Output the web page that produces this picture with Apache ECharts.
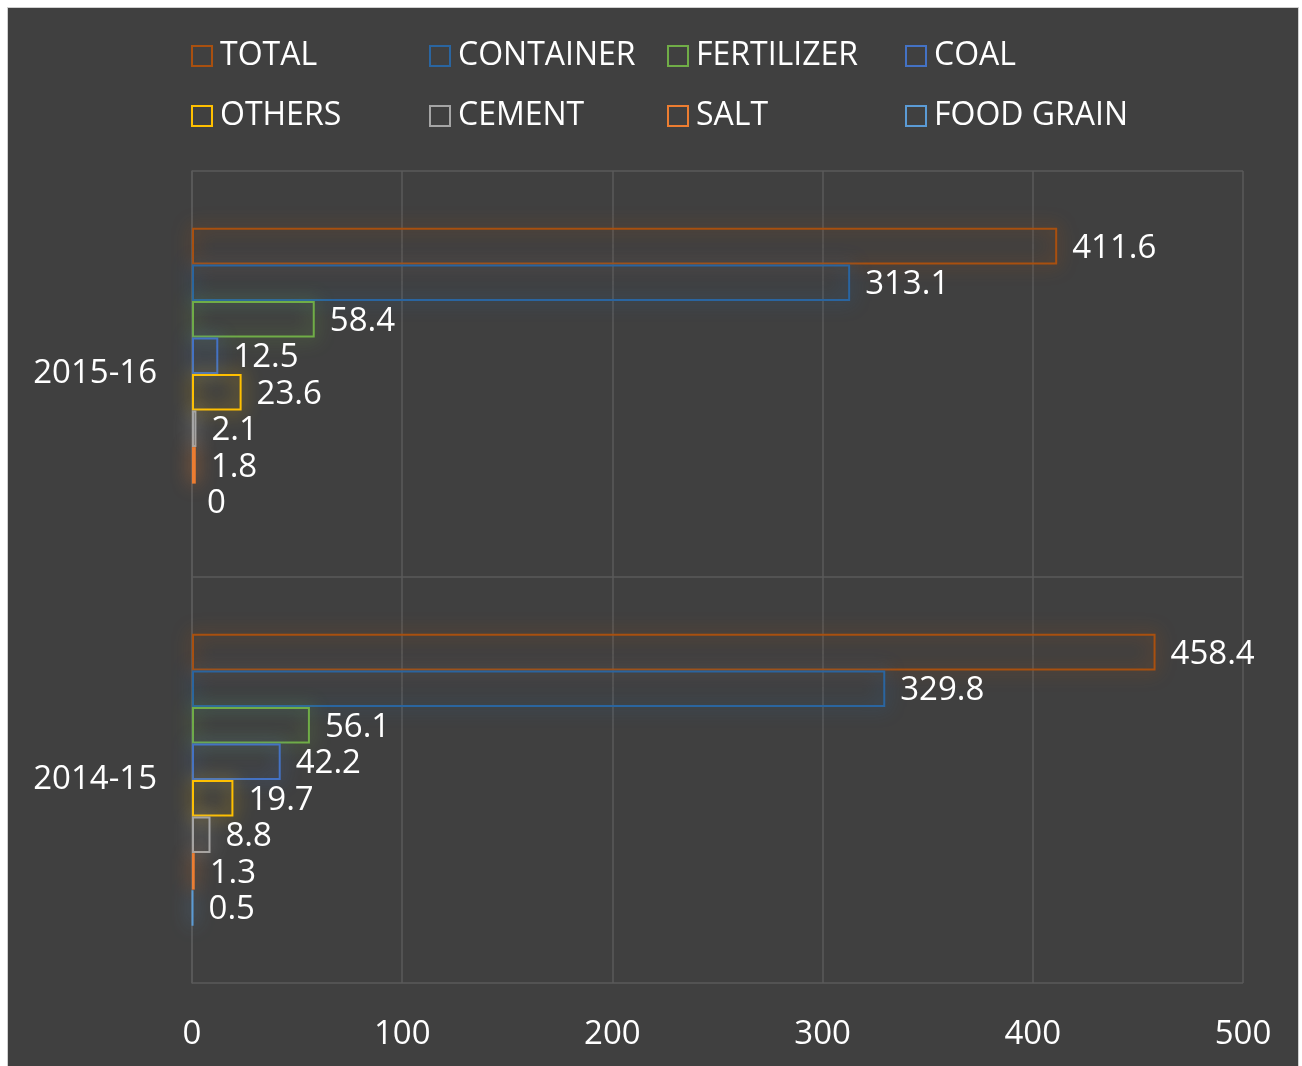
<!DOCTYPE html>
<html>
<head>
<meta charset="utf-8">
<script src="https://cdn.jsdelivr.net/npm/echarts@6/dist/echarts.min.js"></script>
<style>
html,body{margin:0;padding:0;background:#ffffff;width:1302px;height:1066px;overflow:hidden;}
#frame{position:absolute;left:7px;top:7px;width:1292px;height:1059px;background:#404040;border:1px solid #d0d0d0;border-bottom:none;box-sizing:border-box;}
#chart{position:absolute;left:0;top:0;width:1291px;height:1059px;}
</style>
</head>
<body>
<div id="frame"><div id="chart"></div></div>
<script>
var categories = ['2015-16', '2014-15'];
var seriesNames = ['TOTAL', 'CONTAINER', 'FERTILIZER', 'COAL', 'OTHERS', 'CEMENT', 'SALT', 'FOOD GRAIN'];
var TOTAL = [411.6, 458.4];
var CONTAINER = [313.1, 329.8];
var FERTILIZER = [58.4, 56.1];
var COAL = [12.5, 42.2];
var OTHERS = [23.6, 19.7];
var CEMENT = [2.1, 8.8];
var SALT = [1.8, 1.3];
var FOOD_GRAIN = [0, 0.5];
var xTicks = [0, 100, 200, 300, 400, 500];

var seriesValues = [TOTAL, CONTAINER, FERTILIZER, COAL, OTHERS, CEMENT, SALT, FOOD_GRAIN];
var colors = ['#A9500F', '#2A65A0', '#70AD47', '#4472C4', '#FFC000', '#A5A5A5', '#ED7D31', '#5B9BD5'];
var FONT = '"Open Sans", "Noto Sans", sans-serif';

var legendLeft = [178, 416, 654, 892];
var legendTop = [27, 87];
var legends = seriesNames.map(function (n, i) {
  return {
    data: [n],
    left: legendLeft[i % 4],
    top: legendTop[Math.floor(i / 4)],
    itemWidth: 20,
    itemHeight: 20,
    itemGap: 0,
    icon: 'rect',
    itemStyle: { color: 'rgba(0,0,0,0)', borderColor: colors[i], borderWidth: 2, shadowBlur: 0 },
    textStyle: { color: '#ffffff', fontSize: 32, fontFamily: FONT, padding: [0, 0, 0, 3] },
    selectedMode: false
  };
});

var series = seriesNames.map(function (n, i) {
  return {
    name: n,
    type: 'bar',
    data: seriesValues[i].map(function (v) {
      return v === 0 ? { value: v, itemStyle: { borderWidth: 0, shadowBlur: 0 } } : v;
    }),
    barGap: '0%',
    barCategoryGap: '28%',
    itemStyle: {
      color: 'rgba(0,0,0,0)',
      borderColor: colors[i],
      borderWidth: 2,
      shadowBlur: 18,
      shadowColor: colors[i]
    },
    label: {
      show: true,
      position: 'right',
      distance: 15,
      offset: [0, 2],
      color: '#ffffff',
      fontSize: 33,
      fontFamily: FONT
    },
    emphasis: { disabled: true },
    animation: false
  };
});

var chart = echarts.init(document.getElementById('chart'), null, { renderer: 'canvas' });
chart.setOption({
  backgroundColor: 'transparent',
  animation: false,
  legend: legends,
  grid: { left: 184, right: 56, top: 163, bottom: 84, containLabel: false },
  xAxis: {
    type: 'value',
    min: xTicks[0],
    max: xTicks[xTicks.length - 1],
    interval: 100,
    axisLine: { show: false },
    axisTick: { show: false },
    splitLine: { show: true, lineStyle: { color: '#5a5a5a', width: 1.5 } },
    axisLabel: { color: '#ffffff', fontSize: 33, fontFamily: FONT, margin: 35 }
  },
  yAxis: {
    type: 'category',
    inverse: true,
    data: categories,
    axisLine: { show: true, lineStyle: { color: '#5a5a5a', width: 1.5 } },
    axisTick: { show: false },
    splitLine: { show: true, lineStyle: { color: '#5a5a5a', width: 1.5 } },
    axisLabel: { color: '#ffffff', fontSize: 33, fontFamily: FONT, margin: 35 }
  },
  series: series
});
</script>
</body>
</html>
